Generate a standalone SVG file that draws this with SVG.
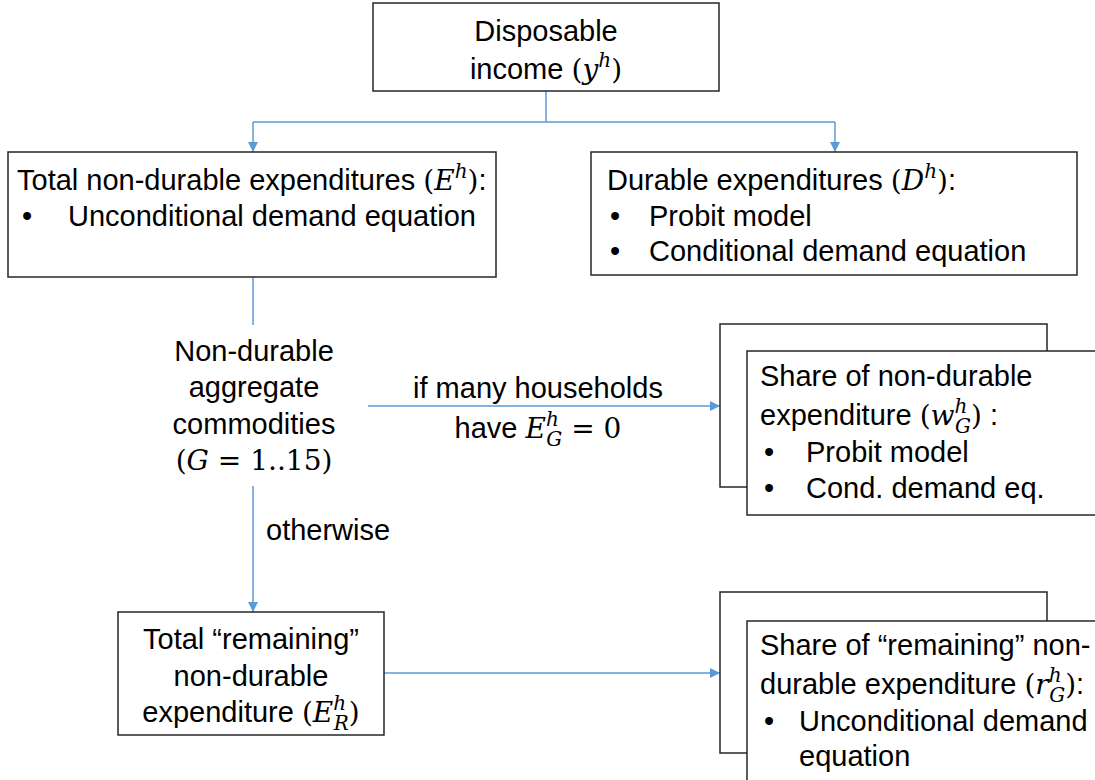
<svg xmlns="http://www.w3.org/2000/svg" width="1095" height="780" viewBox="0 0 1095 780">
<defs>
<style>
.box{fill:#fff;stroke:#262626;stroke-width:1.5}
.t{font-family:"Liberation Sans",Arial,sans-serif;font-size:29px;fill:#000}
.c{text-anchor:middle}
.m{font-family:"DejaVu Serif","Liberation Serif",serif;font-style:italic;font-size:28px}
.n{font-family:"DejaVu Serif","Liberation Serif",serif;font-size:28px}
.s{font-family:"DejaVu Serif","Liberation Serif",serif;font-style:italic;font-size:20px}
.conn{fill:none;stroke:#5B9BD5;stroke-width:1.5}
</style>
<marker id="ah" viewBox="0 0 10 10" refX="10" refY="5" markerWidth="10" markerHeight="10" markerUnits="userSpaceOnUse" orient="auto">
<path d="M0,0 L10,5 L0,10 z" fill="#5B9BD5"/>
</marker>
</defs>

<g id="connectors">
<path class="conn" d="M546 91 V122"/>
<path class="conn" d="M253 122 H835"/>
<path class="conn" d="M253 122 V152" marker-end="url(#ah)"/>
<path class="conn" d="M835 122 V152" marker-end="url(#ah)"/>
<path class="conn" d="M253 277 V325"/>
<path class="conn" d="M253 486 V612" marker-end="url(#ah)"/>
<path class="conn" d="M368 406 H720" marker-end="url(#ah)"/>
<path class="conn" d="M384 673 H720" marker-end="url(#ah)"/>
</g>

<g id="income">
<rect class="box" x="373" y="3" width="346" height="88"/>
<text class="t c" x="546" y="41">Disposable</text>
<text class="t c" x="546" y="79">income <tspan class="n">(</tspan><tspan class="m">y</tspan><tspan class="s" dy="-12">h</tspan><tspan class="n" dy="12">)</tspan></text>
</g>

<g id="nondurable">
<rect class="box" x="8" y="152" width="488" height="125"/>
<text class="t" x="17" y="190">Total non-durable expenditures <tspan class="n">(</tspan><tspan class="m">E</tspan><tspan class="s" dy="-12">h</tspan><tspan class="n" dy="12">)</tspan>:</text>
<text class="t" x="22" y="226">•</text>
<text class="t" x="68" y="226">Unconditional demand equation</text>
</g>

<g id="durable">
<rect class="box" x="591" y="152" width="486" height="123"/>
<text class="t" x="607" y="190">Durable expenditures <tspan class="n">(</tspan><tspan class="m">D</tspan><tspan class="s" dy="-12">h</tspan><tspan class="n" dy="12">)</tspan>:</text>
<text class="t" x="610" y="226">•</text>
<text class="t" x="649" y="226">Probit model</text>
<text class="t" x="610" y="261">•</text>
<text class="t" x="649" y="261">Conditional demand equation</text>
</g>

<g id="commodities">
<text class="t c" x="254" y="361">Non-durable</text>
<text class="t c" x="254" y="397">aggregate</text>
<text class="t c" x="254" y="434">commodities</text>
<text class="t c" x="254" y="470"><tspan class="n">(</tspan><tspan class="m">G</tspan><tspan class="n"> = 1..15)</tspan></text>
</g>

<g id="label-many">
<text class="t c" x="538" y="398">if many households</text>
<text class="t c" x="538" y="438">have <tspan class="m">E</tspan><tspan class="s" dy="-12">h</tspan><tspan class="s" dx="-12.5" dy="20">G</tspan><tspan class="n" dy="-8"> = 0</tspan></text>
</g>

<g id="label-otherwise">
<text class="t" x="266" y="540">otherwise</text>
</g>

<g id="share-nondurable">
<rect class="box" x="720" y="324" width="327" height="163"/>
<rect class="box" x="747" y="351" width="360" height="164"/>
<text class="t" x="760" y="386">Share of non-durable</text>
<text class="t" x="760" y="425">expenditure <tspan class="n">(</tspan><tspan class="m">w</tspan><tspan class="s" dy="-12">h</tspan><tspan class="s" dx="-12.5" dy="20">G</tspan><tspan class="n" dy="-8">)</tspan> :</text>
<text class="t" x="764" y="462">•</text>
<text class="t" x="806" y="462">Probit model</text>
<text class="t" x="764" y="498">•</text>
<text class="t" x="806" y="498">Cond. demand eq.</text>
</g>

<g id="remaining">
<rect class="box" x="118" y="612" width="266" height="123"/>
<text class="t c" x="251" y="649">Total “remaining”</text>
<text class="t c" x="251" y="686">non-durable</text>
<text class="t c" x="251" y="722">expenditure <tspan class="n">(</tspan><tspan class="m">E</tspan><tspan class="s" dy="-12">h</tspan><tspan class="s" dx="-12.5" dy="20">R</tspan><tspan class="n" dy="-8">)</tspan></text>
</g>

<g id="share-remaining">
<rect class="box" x="720" y="592" width="327" height="161"/>
<rect class="box" x="747" y="621" width="360" height="180"/>
<text class="t" x="760" y="655">Share of “remaining” non-</text>
<text class="t" x="760" y="694">durable expenditure <tspan class="n">(</tspan><tspan class="m">r</tspan><tspan class="s" dy="-12">h</tspan><tspan class="s" dx="-12.5" dy="20">G</tspan><tspan class="n" dy="-8">)</tspan>:</text>
<text class="t" x="764" y="731">•</text>
<text class="t" x="799" y="731">Unconditional demand</text>
<text class="t" x="799" y="766">equation</text>
</g>
</svg>
